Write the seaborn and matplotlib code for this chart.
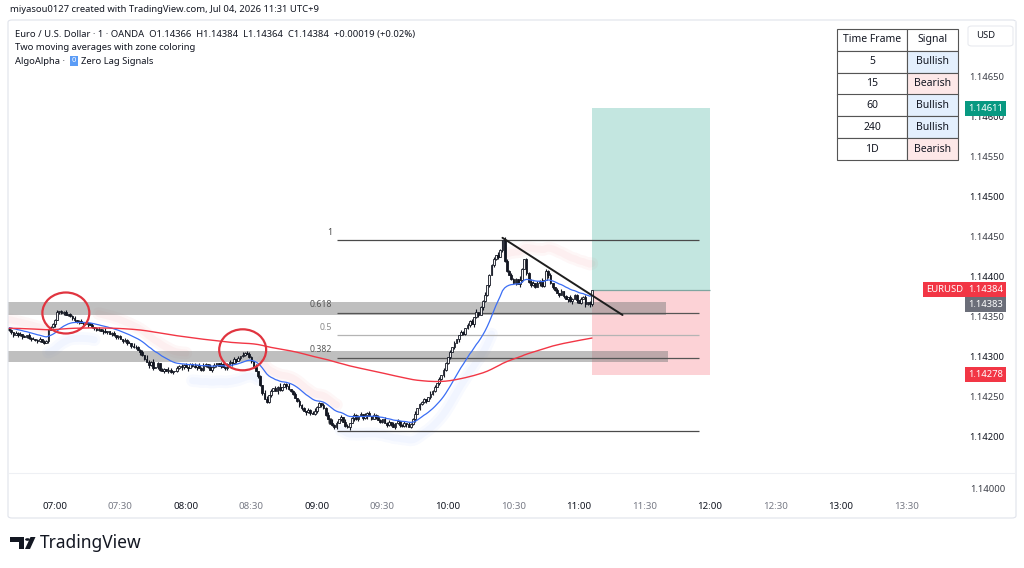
import numpy as np
import pandas as pd
import seaborn as sns
import matplotlib.pyplot as plt
from matplotlib.patches import Rectangle, Ellipse, Polygon, Circle, FancyBboxPatch
from matplotlib.lines import Line2D
from matplotlib.transforms import blended_transform_factory

# prices are stored in points (1e-5) above 1.14000
BASE = 1.14
PT = 1e-5

# 1-minute candles, minutes counted from 07:00 (first one is 06:39)
first_minute = -21
first_open = 336
closes = [
    334, 331, 328, 330, 327, 329, 326, 325, 327, 324,
    322, 323, 321, 320, 322, 319, 318, 320, 334, 337,
    341, 346, 356, 357, 355, 356, 353, 354, 351, 349,
    346, 344, 345, 342, 343, 341, 342, 340, 337, 336,
    334, 335, 332, 333, 331, 332, 329, 330, 327, 325,
    326, 322, 320, 321, 317, 318, 314, 312, 313, 309,
    306, 302, 298, 294, 290, 294, 286, 288, 292, 284,
    283, 285, 282, 284, 281, 282, 283, 286, 289, 287,
    290, 288, 286, 291, 289, 287, 290, 286, 284, 289,
    291, 288, 284, 287, 290, 292, 289, 291, 288, 286,
    291, 294, 292, 297, 295, 299, 301, 303, 305, 304,
    300, 295, 288, 282, 276, 265, 255, 248, 244, 252,
    258, 261, 257, 263, 259, 262, 266, 264, 260, 258,
    254, 249, 245, 240, 236, 233, 231, 234, 230, 229,
    233, 238, 242, 240, 236, 228, 222, 218, 215, 213,
    218, 222, 225, 219, 214, 212, 218, 224, 227, 222,
    226, 229, 224, 227, 230, 226, 223, 228, 225, 221,
    219, 222, 218, 215, 219, 216, 213, 217, 220, 215,
    214, 218, 216, 213, 216, 222, 229, 236, 241, 244,
    247, 245, 250, 254, 258, 263, 268, 272, 277, 284,
    292, 300, 306, 312, 318, 322, 327, 331, 329, 336,
    340, 345, 341, 350, 356, 352, 362, 370, 378, 390,
    402, 415, 422, 428, 425, 434, 446, 420, 408, 402,
    398, 393, 397, 391, 396, 410, 422, 405, 394, 390,
    393, 388, 392, 395, 389, 396, 408, 402, 392, 387,
    384, 380, 378, 382, 376, 372, 375, 370, 373, 377,
    371, 368, 372, 375, 366, 369, 366, 384,
]
# upper / lower wick length of each candle, in points
hi_wick = "".join([
    "2103120213", "1201302112", "1230213012", "2013102130", "1202310121",
    "2103120321", "1304213021", "2103210312", "1202130213", "2031201320",
    "1203120312", "2103120430", "2031402130", "1203120213", "3120213041",
    "2130320132", "1203120213", "2031203120", "1203123021", "2103120312",
    "2031201320", "3120402130", "2130310421", "3120510213", "2031402130",
    "1203120312", "20312010",
])
lo_wick = "".join([
    "1230213012", "2013102130", "1302120213", "2130213012", "1203120312",
    "2031203120", "3120412031", "1302120213", "2130213021", "1203120312",
    "2031203120", "1320213012", "2103120412", "2013203120", "1302120213",
    "3120213041", "2031402130", "1203120312", "2130213021", "1203120312",
    "2130213021", "1203120312", "2031203120", "2130420312", "1203120312",
    "2031203140", "31204132",
])

# two moving averages (value just before the first candle as seed)
fast_span, slow_span = 20, 200
fast_seed, slow_seed = 337, 336

# zero lag signal bands: (from, to, side, distance from fast EMA in points)
zl_bands = [
    (-21, -4, 1, 10),
    (-3, 18, -1, 20),
    (20, 60, 1, 14),
    (63, 93, -1, 20),
    (95, 129, 1, 8),
    (131, 200, -1, 22),
    (207, 246, 1, 40),
]

# grey supply/demand zones: (low, high, end minute)
zones = [(353, 369, 280), (294, 308, 281)]

# fibonacci retracement
fib_low, fib_high = 208, 446
fib_start, fib_end = 129, 295
fib_levels = [0, 0.382, 0.5, 0.618, 1]
fib_labels = ["0", "0.382", "0.5", "0.618", "1"]
fib_colors = ["#4a4a4a", "#555555", "#b4b4b4", "#555555", "#4a4a4a"]

# trend line
trend_t = [205, 260]
trend_p = [449, 352.5]

# long position tool
pos_start, pos_end = 246, 300
pos_entry, pos_target, pos_stop = 384, 611, 278

# circled swing highs
circle_t = [5, 86]
circle_p = [355, 309]

# multi time frame table
timeframes = ["5", "15", "60", "240", "1D"]
signals = ["Bullish", "Bearish", "Bullish", "Bullish", "Bearish"]

time_ticks = [0, 30, 60, 90, 120, 150, 180, 210, 240, 270, 300, 330, 360, 390]
time_labels = ["07:00", "07:30", "08:00", "08:30", "09:00", "09:30", "10:00",
               "10:30", "11:00", "11:30", "12:00", "12:30", "13:00", "13:30"]
price_ticks = [200, 250, 300, 350, 400, 450, 500, 550, 600, 650]


def p(v):
    return BASE + np.asarray(v, dtype=float) * PT


W, H = 1024, 568


def fx(x):
    return x / W


def fy(y):
    return 1 - y / H


sns.set_theme(style="white")
plt.rcParams["font.family"] = ["Noto Sans", "DejaVu Sans"]
dark = "#131722"

fig = plt.figure(figsize=(10.24, 5.68), dpi=100)
fig.patch.set_facecolor("white")
ax = fig.add_axes([fx(8), fy(473), (962 - 8) / W, (473 - 20) / H])
ax.set_facecolor("white")
ax.set_xlim(-21.5, 415.5)
ax.set_ylim(p(155), p(721.25))

# candles
n = len(closes)
mins = np.arange(first_minute, first_minute + n)
c = np.array(closes, dtype=float)
o = np.r_[first_open, c[:-1]]
hi = np.maximum(o, c) + np.array([int(ch) for ch in hi_wick])
lo = np.minimum(o, c) - np.array([int(ch) for ch in lo_wick])
up = c >= o

# moving averages
fast = pd.Series(np.r_[fast_seed, c]).ewm(span=fast_span, adjust=False).mean().to_numpy()[1:]
slow = pd.Series(np.r_[slow_seed, c]).ewm(span=slow_span, adjust=False).mean().to_numpy()[1:]

# position tool
ax.add_patch(Rectangle((pos_start, p(pos_entry)), pos_end - pos_start,
                       (pos_target - pos_entry) * PT, fc="#089981", alpha=0.24, lw=0, zorder=0.5))
ax.add_patch(Rectangle((pos_start, p(pos_stop)), pos_end - pos_start,
                       (pos_entry - pos_stop) * PT, fc="#f23645", alpha=0.22, lw=0, zorder=0.5))
ax.hlines(p(pos_entry), pos_start, pos_end, color="#7fa5a0", lw=0.9, zorder=0.6)

# zero lag bands
for s, e, side, dist in zl_bands:
    m = (mins >= s) & (mins <= e)
    col = "#f23645" if side > 0 else "#2962ff"
    a = 0.04 if side > 0 else 0.03
    yb = p(fast[m] + side * dist)
    ax.plot(mins[m], yb, color=col, lw=9, alpha=a, solid_capstyle="round", zorder=1)
    ax.plot(mins[m], yb, color=col, lw=5, alpha=a, solid_capstyle="round", zorder=1)

# grey zones
for zlo, zhi, zend in zones:
    ax.add_patch(Rectangle((-30, p(zlo)), zend + 30, (zhi - zlo) * PT,
                           fc="#808080", alpha=0.5, lw=0, zorder=2))

# fibonacci
for lev, lab, col in zip(fib_levels, fib_labels, fib_colors):
    yv = p(fib_low + lev * (fib_high - fib_low))
    ax.hlines(yv, fib_start, fib_end, color=col, lw=0.9, zorder=2.5)
    ax.annotate(lab, (fib_start, yv), xytext=(-3, 2.5), textcoords="offset points",
                ha="right", va="bottom", fontsize=6.3, color=col if lev != 0.5 else "#8a8a8a",
                zorder=2.5)

# candles
ax.vlines(mins, p(lo), p(hi), color=dark, lw=0.8, zorder=4)
ax.bar(mins[up], np.maximum(c[up] - o[up], 0.5) * PT, bottom=p(o[up]), width=0.8,
       color="#f4f4f4", edgecolor=dark, linewidth=0.6, zorder=4.5)
ax.bar(mins[~up], np.maximum(o[~up] - c[~up], 0.5) * PT, bottom=p(c[~up]), width=0.8,
       color=dark, edgecolor=dark, linewidth=0.6, zorder=4.5)

sns.lineplot(x=mins, y=p(fast), color="#3b6ef5", lw=0.9, ax=ax, zorder=5)
sns.lineplot(x=mins, y=p(slow), color="#f23645", lw=1.0, ax=ax, zorder=5)

# trend line
ax.plot(trend_t, p(trend_p), color="#1e1e1e", lw=1.4, zorder=6)

# circles
for ct, cp in zip(circle_t, circle_p):
    ax.add_patch(Ellipse((ct, p(cp)), 21.5, 41 / 80000, fill=False,
                         ec="#e0343f", lw=1.6, zorder=6))

# axes styling
for sp in ax.spines.values():
    sp.set_visible(False)
ax.grid(False)
ax.set_xlabel("")
ax.set_ylabel("")
ax.set_xticks(time_ticks)
ax.set_xticklabels(time_labels)
ax.tick_params(axis="x", length=0, pad=21, labelsize=7)
for lab in ax.get_xticklabels():
    if lab.get_text().endswith(":00"):
        lab.set_fontweight("bold")
        lab.set_color(dark)
    else:
        lab.set_color("#787b86")

ax.yaxis.tick_right()
ax.set_yticks(p(price_ticks))
ax.set_yticklabels([f"{v:.5f}" for v in p(price_ticks)])
ax.tick_params(axis="y", length=0, pad=5.5, labelsize=6.8)
for lab, v in zip(ax.get_yticklabels(), price_ticks):
    lab.set_color(dark if v % 100 == 0 else "#3c3f48")

blend = blended_transform_factory(fig.transFigure, ax.transData)


def price_tag(v, text, fc, x_px=968):
    ax.text(fx(x_px), p(v), text, transform=blend, ha="left", va="center",
            fontsize=6.8, color="white", zorder=10,
            bbox=dict(boxstyle="square,pad=0.3", fc=fc, ec="none"))


price_tag(611, "1.14611", "#089981")
price_tag(384, "1.14384", "#f23645")
price_tag(383 - 17, "1.14383", "#6b6e79")
price_tag(278, "1.14278", "#f23645")
ax.text(fx(926), p(384), "EURUSD", transform=blend, ha="left", va="center",
        fontsize=6.8, color="white", zorder=10,
        bbox=dict(boxstyle="square,pad=0.3", fc="#f23645", ec="none"))

# table
cell_colors = [["white", "#e3effd" if s == "Bullish" else "#fde8e8"] for s in signals]
tbl = ax.table(cellText=[[t, s] for t, s in zip(timeframes, signals)],
               colLabels=["Time Frame", "Signal"], cellLoc="center",
               cellColours=cell_colors, colColours=["white", "white"],
               colWidths=[70 / 121, 51 / 121],
               bbox=[(837 - 8) / 954, (473 - 160) / 453, 121 / 954, 131 / 453])
tbl.auto_set_font_size(False)
tbl.set_fontsize(7.5)
tbl.set_zorder(12)
for cell in tbl.get_celld().values():
    cell.set_edgecolor("#555555")
    cell.set_linewidth(0.8)
    cell.get_text().set_color(dark)

# frame of the chart panel
fig.add_artist(FancyBboxPatch((fx(8), fy(518)), fx(1016) - fx(8), fy(20) - fy(518),
                              boxstyle="round,pad=0,rounding_size=0.004",
                              transform=fig.transFigure, fill=False, ec="#e0e3eb", lw=0.8))
fig.add_artist(Line2D([fx(8), fx(1016)], [fy(473), fy(473)], color="#eef0f4", lw=0.8))
fig.add_artist(Line2D([fx(1015), fx(1015)], [fy(473), fy(20)], color="#eef0f4", lw=0.8))

# price axis extras
fig.add_artist(FancyBboxPatch((fx(968), fy(46)), fx(1013) - fx(968), fy(26) - fy(46),
                              boxstyle="round,pad=0,rounding_size=0.004",
                              transform=fig.transFigure, fc="white", ec="#e8eaef", lw=0.8))
fig.text(fx(976), fy(36), "USD", fontsize=6.8, color=dark, va="center")
fig.text(fx(970), fy(489), "1.14000", fontsize=6.8, color="#3c3f48", va="center")

# header and legend
fig.text(fx(10), fy(10), "miyasou0127 created with TradingView.com, Jul 04, 2026 11:31 UTC+9",
         fontsize=6.8, color=dark, va="center")
fig.text(fx(15), fy(35),
         "Euro / U.S. Dollar · 1 · OANDA  O1.14366  H1.14384  L1.14364  C1.14384  +0.00019 (+0.02%)",
         fontsize=6.8, color=dark, va="center")
fig.text(fx(15), fy(48), "Two moving averages with zone coloring", fontsize=6.8,
         color=dark, va="center")
fig.text(fx(15), fy(61), "AlgoAlpha ·", fontsize=6.8, color=dark, va="center")
fig.text(fx(74), fy(61), "0", fontsize=5.5, color="white", va="center", ha="center",
         bbox=dict(boxstyle="square,pad=0.2", fc="#5b9cf6", ec="none"))
fig.text(fx(81), fy(61), "Zero Lag Signals", fontsize=6.8, color=dark, va="center")

# TradingView logo
fig.add_artist(Polygon([(fx(10), fy(537)), (fx(24), fy(537)), (fx(24), fy(549)),
                        (fx(18.5), fy(549)), (fx(18.5), fy(542)), (fx(10), fy(542))],
                       closed=True, transform=fig.transFigure, fc=dark, ec="none"))
fig.add_artist(Circle((fx(27.5), fy(539.5)), 2.4 / W, transform=fig.transFigure,
                      fc=dark, ec="none"))
fig.add_artist(Polygon([(fx(30.5), fy(537)), (fx(35.5), fy(537)), (fx(30), fy(549)),
                        (fx(25), fy(549))],
                       closed=True, transform=fig.transFigure, fc=dark, ec="none"))
fig.text(fx(40), fy(543.5), "TradingView", fontsize=12.5, fontweight="bold",
         color=dark, va="center")

fig.savefig("out.png", dpi=100)
